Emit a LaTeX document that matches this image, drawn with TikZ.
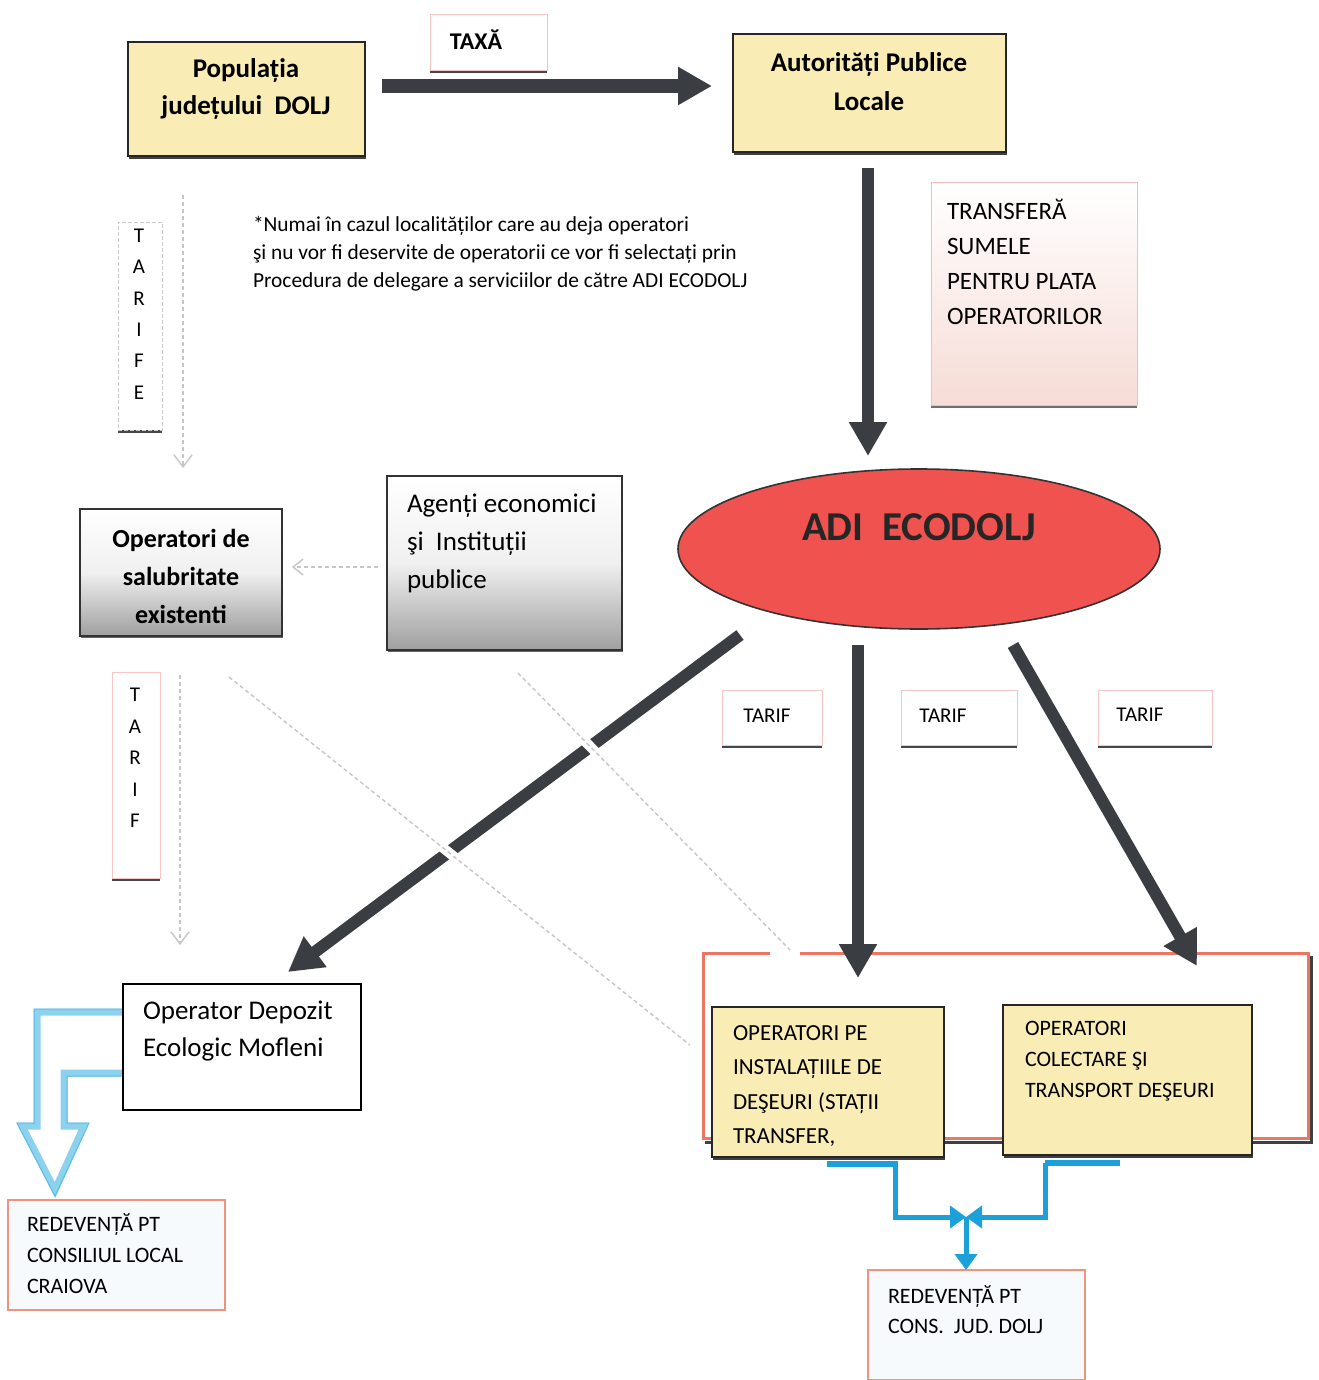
\documentclass[tikz,border=0pt]{standalone}
\usepackage{fontspec}
\setmainfont{Carlito}
\usetikzlibrary{arrows.meta,shapes.geometric,fit,shadows}
\definecolor{yfill}{RGB}{249,237,181}
\definecolor{darkarr}{RGB}{58,62,66}
\definecolor{adired}{RGB}{240,82,80}
\definecolor{bluec}{RGB}{28,160,218}
\definecolor{lblue}{RGB}{140,210,238}
\definecolor{salmon}{RGB}{236,118,98}
\definecolor{pinkb}{RGB}{236,160,160}
\definecolor{pinkfill}{RGB}{246,220,214}
\definecolor{redevfill}{RGB}{246,250,252}
\begin{document}
\begin{tikzpicture}[x=0.5pt,y=-0.5pt,
  every node/.style={inner sep=0pt,outer sep=0pt},
  ybox/.style={draw=black!85,line width=0.9pt,fill=yfill,
    drop shadow={shadow xshift=0.5pt,shadow yshift=-1.5pt,fill=black,opacity=0.75}},
  gbox/.style={draw=black!80,line width=0.8pt,top color=white,bottom color=gray!75,middle color=gray!12,
    drop shadow={shadow xshift=0.3pt,shadow yshift=-1.2pt,fill=black,opacity=0.6}},
  tagbox/.style={draw=pinkb!60,line width=0.4pt,fill=white,
    drop shadow={shadow xshift=0pt,shadow yshift=-1.5pt,fill=black!80,opacity=0.9}},
  vtagbox/.style={draw=gray!40,dash pattern=on 2pt off 1pt,line width=0.4pt,fill=white,
    drop shadow={shadow xshift=0pt,shadow yshift=-1.5pt,fill=black!80,opacity=0.9}},
  pinkgrad/.style={draw=pinkb!70,line width=0.5pt,top color=white,bottom color=pinkfill,
    drop shadow={shadow xshift=0pt,shadow yshift=-1.5pt,fill=black!70,opacity=0.8}},
  redev/.style={draw=salmon!80,line width=0.8pt,fill=redevfill},
  wbox/.style={draw=black,line width=0.8pt,fill=white},
  darrow/.style={draw=darkarr,line width=6pt,-{Triangle[length=17pt,width=18pt]}},
  faintl/.style={draw=gray!45,line width=0.7pt,dash pattern=on 2pt off 1.5pt},
  gapcut/.style={preaction={draw=white,line width=5pt,solid}},
  bluel/.style={draw=bluec,line width=2.5pt},
  bluetip/.style={-{Triangle[length=8pt,width=11pt]}},
  fbig/.style={font=\bfseries\fontsize{13.5}{18.5}\selectfont},
  fmid/.style={font=\fontsize{13.5}{19}\selectfont},
  fsm/.style={font=\fontsize{10.5}{15.7}\selectfont}
]
\useasboundingbox (0,0) rectangle (1318,1380);

% ---------- boxes ----------
\node[ybox,fit={(128,42)(365,156)}] (pop) {};
\node[tagbox,fit={(430,14)(547,70)}] (taxa) {};
\node[ybox,fit={(733,34)(1006,152)}] (apl) {};
\node[pinkgrad,fit={(931,183)(1137,405)}] (transf) {};
\node[vtagbox,fit={(118,222)(162,430)}] (tarife) {};
\node[gbox,fit={(80,509)(282,636)}] (opsal) {};
\node[gbox,fit={(387,476)(622,650)}] (agenti) {};
\node[ellipse,draw=black!80,line width=0.8pt,fill=adired,minimum width=241pt,minimum height=80pt] (adi) at (919,549) {};
\node[tagbox,fit={(722,690)(822,745)}] (tarif1) {};
\node[tagbox,fit={(901,690)(1017,745)}] (tarif2) {};
\node[tagbox,fit={(1098,690)(1212,745)}] (tarif3) {};
\node[tagbox,fit={(112,672)(160,878)}] (tarifv) {};

% ---------- red frame around operators ----------
\draw[black!75,line width=1.5pt] (705,1142) -- (1311,1142) -- (1311,956);
\draw[salmon,line width=1.5pt] (770,953) -- (703,953) -- (703,1138) -- (1308,1138) -- (1308,953) -- (800,953);

\node[ybox,fit={(712,1007)(944,1157)}] (opinst) {};
\node[ybox,fit={(1003,1005)(1252,1155)}] (opcol) {};
\node[redev,fit={(868,1270)(1085,1380)}] (redev2) {};

% blue hollow bent arrow
\draw[lblue,line width=3.5pt,line join=miter,fill=white] (123,1012) -- (37,1012) -- (37,1126) -- (22,1126) -- (55,1190) -- (84,1126) -- (64,1126) -- (64,1073) -- (123,1073);
\draw[lblue!60!bluec,line width=0.5pt,line join=miter] (123,1009) -- (34,1009) -- (34,1123) -- (17,1123) -- (55,1196) -- (89,1123) -- (67,1123) -- (67,1076) -- (123,1076);
\node[wbox,fit={(123,984)(361,1110)}] (depozit) {};
\node[redev,fit={(8,1200)(225,1310)}] (redev1) {};

% ---------- texts ----------
\node[fbig,align=center] (popt) at (246,89) {Populația\\județului\ \ DOLJ};
\node[font=\bfseries\fontsize{12}{14}\selectfont] (taxat) at (476,40) {TAXĂ};
\node[font=\bfseries\fontsize{13.5}{19.5}\selectfont,align=center] (aplt) at (869,82) {Autorități Publice\\Locale};
\node[font=\fontsize{12.5}{17.5}\selectfont,align=left,anchor=west] (transft) at (947,262) {TRANSFERĂ\\SUMELE\\PENTRU PLATA\\OPERATORILOR};
\node[font=\fontsize{10.7}{14}\selectfont,align=left,anchor=west] (note) at (253,254) {*Numai în cazul localităților care au deja operatori\\şi nu vor fi deservite de operatorii ce vor fi selectați prin\\Procedura de delegare a serviciilor de către ADI ECODOLJ};
\node[fsm,align=center] (tarifet) at (139,314) {T\\A\\R\\I\\F\\E};
\node[font=\bfseries\fontsize{13}{19}\selectfont,align=center] (opsalt) at (181,576) {Operatori de\\salubritate\\existenti};
\node[fmid,align=left,anchor=west] (agentit) at (407,543) {Agenți economici\\şi\ \ Instituții\\publice};
\node[font=\bfseries\fontsize{20.5}{24}\selectfont,text=black!85] (adit) at (919,527) {ADI\ \ ECODOLJ};
\node[fsm] (tarif1t) at (767,716) {TARIF};
\node[fsm] (tarif2t) at (943,716) {TARIF};
\node[fsm] (tarif3t) at (1140,715) {TARIF};
\node[fsm,align=center] (tarifvt) at (135,758) {T\\A\\R\\I\\F};
\node[font=\fontsize{13.5}{18.5}\selectfont,align=left,anchor=west] (depozitt) at (143,1031) {Operator Depozit\\Ecologic Mofleni};
\node[font=\fontsize{11}{15.5}\selectfont,align=left,anchor=west] (redev1t) at (27,1254) {REDEVENȚĂ PT\\CONSILIUL LOCAL\\CRAIOVA};
\node[font=\fontsize{11.5}{17.3}\selectfont,align=left,anchor=west] (opinstt) at (733,1086) {OPERATORI PE\\INSTALAȚIILE DE\\DEŞEURI (STAȚII\\TRANSFER,};
\node[font=\fontsize{11}{15.5}\selectfont,align=left,anchor=west] (opcolt) at (1025,1061) {OPERATORI\\COLECTARE ŞI\\TRANSPORT DEŞEURI};
\node[font=\fontsize{11}{15}\selectfont,align=left,anchor=west] (redev2t) at (888,1310) {REDEVENȚĂ PT\\CONS.\ \ JUD. DOLJ};

% ---------- connector end points ----------
\coordinate (a1s) at (382,86);   \coordinate (a1e) at (712,86);
\coordinate (a2s) at (868,168);  \coordinate (a2e) at (868,456);
\coordinate (a3s) at (740,635);  \coordinate (a3e) at (288,972);
\coordinate (a4s) at (858,645);  \coordinate (a4e) at (858,978);
\coordinate (a5s) at (1013,645); \coordinate (a5e) at (1197,966);
\coordinate (f1s) at (183,195);  \coordinate (f1e) at (183,468);
\coordinate (f2s) at (180,675);  \coordinate (f2e) at (180,945);
\coordinate (f3s) at (378,567);  \coordinate (f3e) at (292,567);
\coordinate (d1s) at (229,677);  \coordinate (d1e) at (690,1045);
\coordinate (d2s) at (518,673);  \coordinate (d2e) at (790,950);
\coordinate (jn) at (966,1217);

% ---------- dark arrows ----------
\draw[darrow,line width=7pt,-{Triangle[length=17pt,width=18pt]}] (a1s) -- (a1e);
\draw[darrow] (a2s) -- (a2e);
\draw[darrow] (a3s) -- (a3e);
\draw[darrow] (a4s) -- (a4e);
\draw[darrow] (a5s) -- (a5e);

% ---------- faint connectors ----------
\draw[faintl,-{Straight Barb[length=6pt,width=9pt]}] (f1s) -- (f1e);
\draw[faintl,-{Straight Barb[length=6pt,width=9pt]}] (f2s) -- (f2e);
\draw[faintl,-{Straight Barb[length=5pt,width=8pt]}] (f3s) -- (f3e);
\draw[faintl,gapcut] (d1s) -- (d1e);
\draw[faintl,gapcut] (d2s) -- (d2e);

% ---------- blue connectors ----------
\draw[bluec,line width=3pt] (827,1164) -- (898,1164);
\draw[bluec,line width=3pt] (1045,1163) -- (1120,1163);
\draw[bluel,bluetip] (895,1164) -- (895,1217) -- (jn);
\draw[bluel,bluetip] (1045,1163) -- (1045,1217) -- (jn);
\draw[bluel,bluetip] (jn) -- (redev2.north -| jn);
\end{tikzpicture}
\end{document}
